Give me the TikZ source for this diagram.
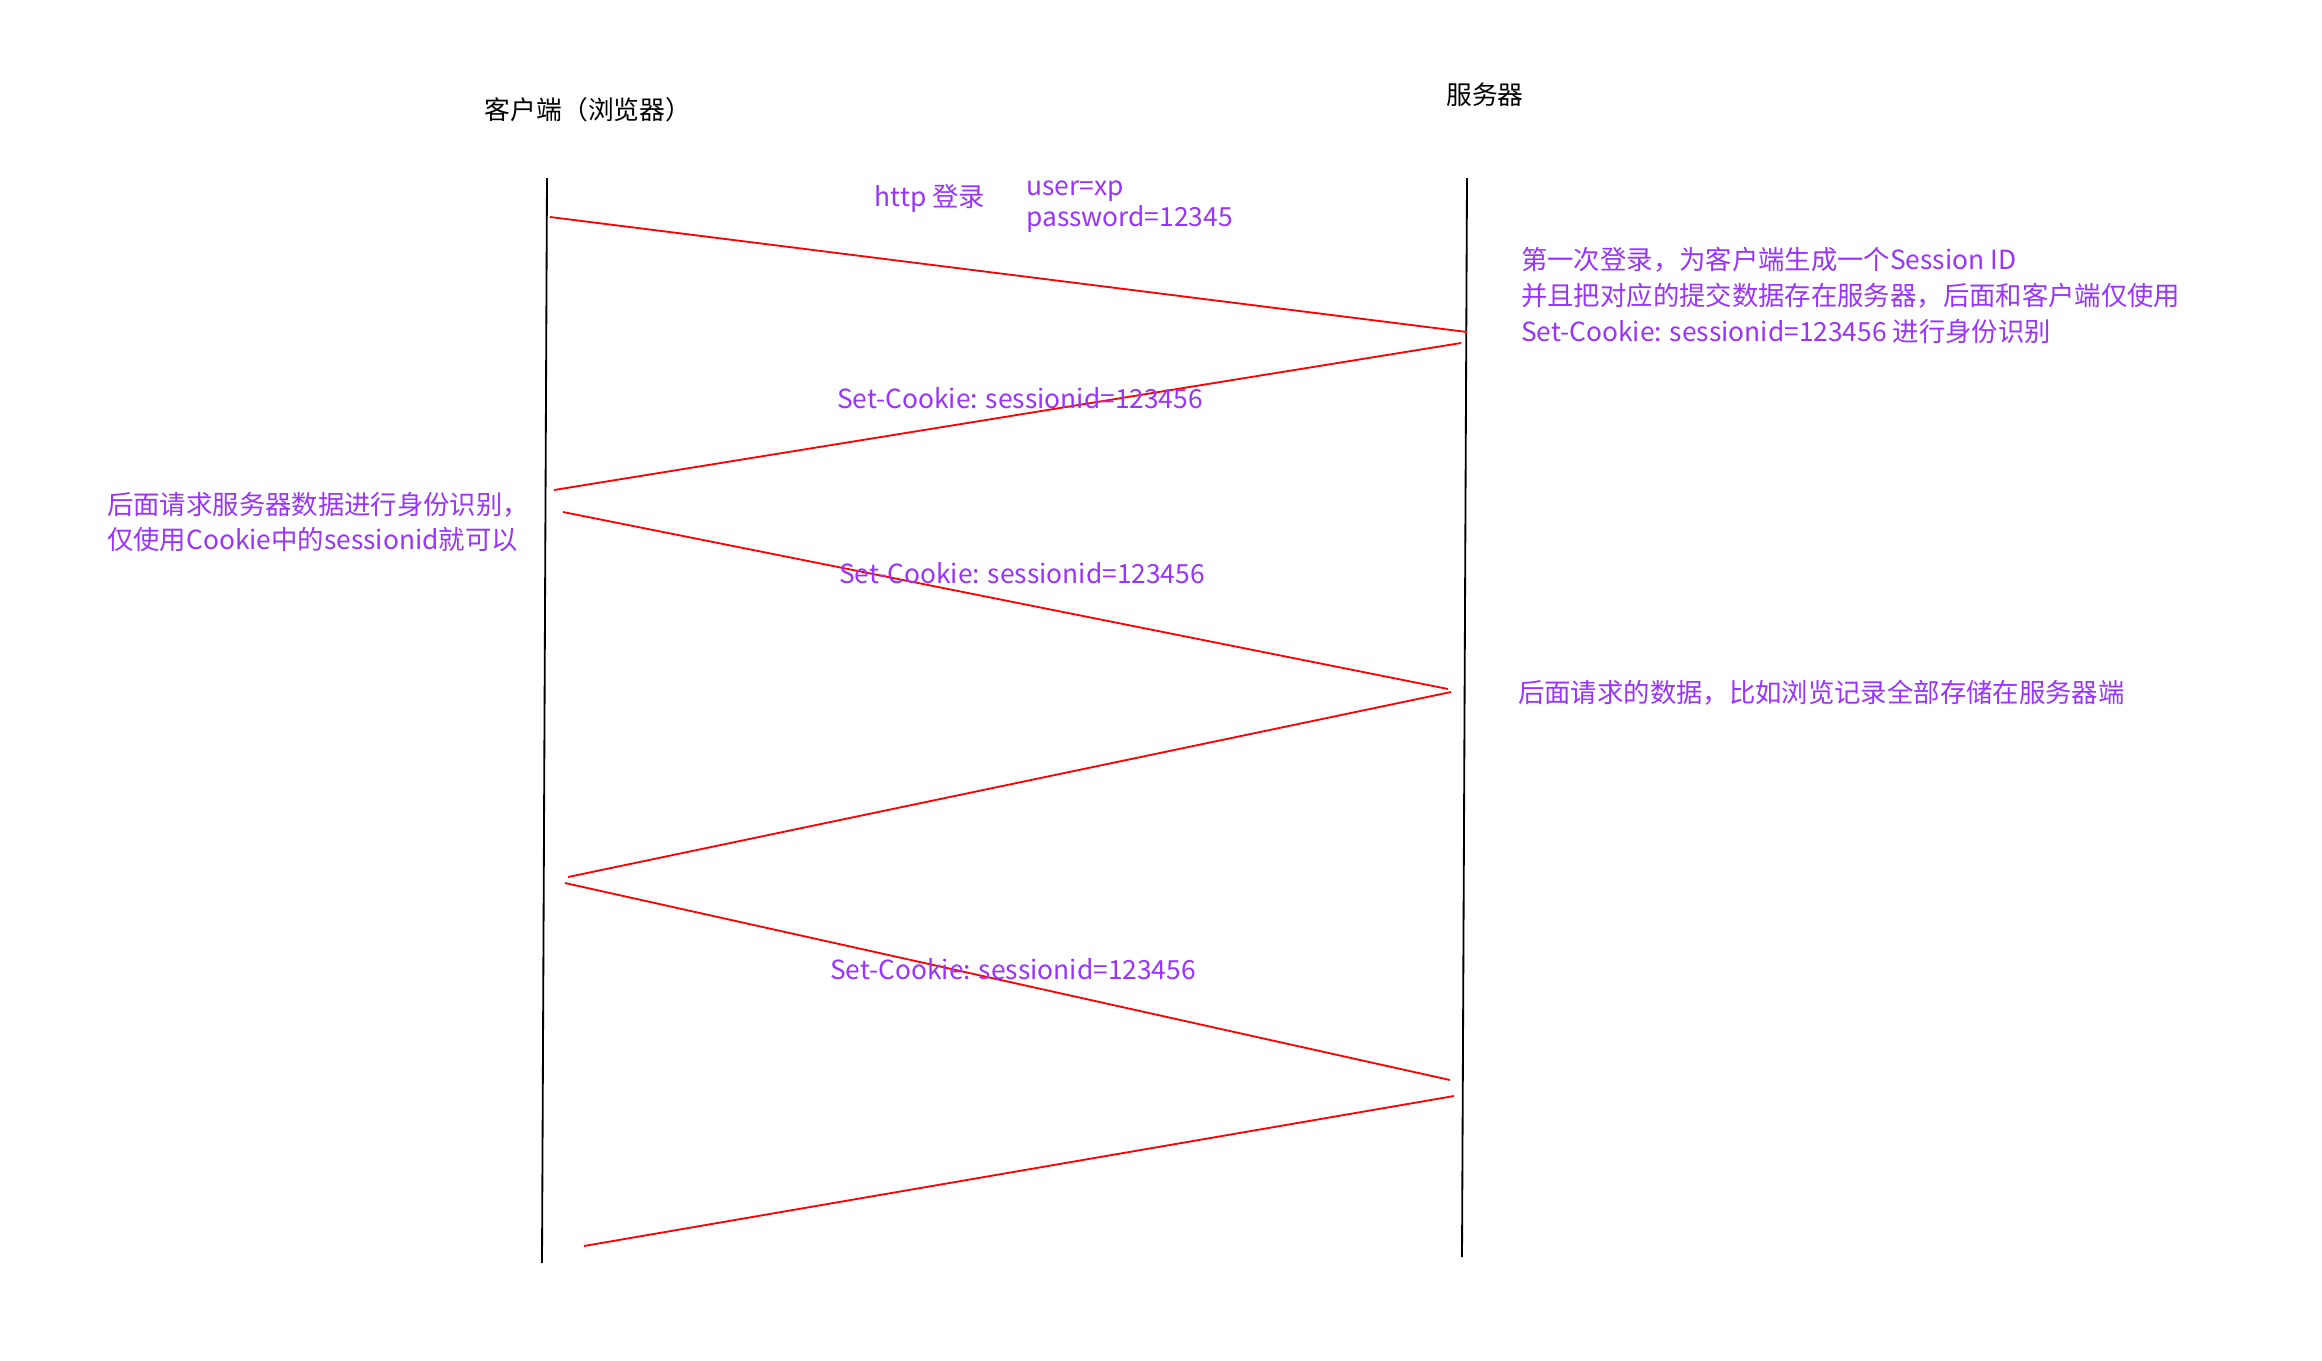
\documentclass[tikz,border=0pt]{standalone}
\usepackage{fontspec}
\setmainfont{Noto Sans CJK SC}
\usetikzlibrary{positioning}
\definecolor{notepurple}{RGB}{153,51,255}
\newcommand{\partysize}{\fontsize{22}{26}\selectfont}
\newcommand{\notesize}{\fontsize{22.5}{30.7}\selectfont}
\newcommand{\loginsize}{\fontsize{22.5}{26.4}\selectfont}

\begin{document}
\begin{tikzpicture}[x=0.3mm,y=-0.3mm]
\tikzstyle{lifeline}=[line width=0.55mm]
\tikzstyle{msg}=[red,line width=0.55mm]
\tikzstyle{party}=[inner sep=0pt,font=\partysize]
\tikzstyle{note}=[inner sep=0pt,text=notepurple,font=\notesize,align=left]

\useasboundingbox (0,0) rectangle (2322,1360);

\node (client) [party] at (588,110) {客户端（浏览器）};
\node (server) [party] at (1485,95) {服务器};

\coordinate (clienttop) at (547,178);
\coordinate (clientbottom) at (542,1263);
\coordinate (servertop) at (1467,178);
\coordinate (serverbottom) at (1462,1257);
\draw[lifeline] (clienttop) -- (clientbottom);
\draw[lifeline] (servertop) -- (serverbottom);

\coordinate (login) at (550,217);
\coordinate (loginend) at (1467,332);
\coordinate (setcookie) at (1461,343);
\coordinate (setcookieend) at (554,490);
\coordinate (reqone) at (563,512);
\coordinate (reqoneend) at (1448,689);
\coordinate (respone) at (1451,692);
\coordinate (responeend) at (568,877);
\coordinate (reqtwo) at (565,883);
\coordinate (reqtwoend) at (1450,1080);
\coordinate (resptwo) at (1454,1096);
\coordinate (resptwoend) at (584,1246);

\draw[msg] (login) -- (loginend);
\draw[msg] (setcookie) -- (setcookieend);
\draw[msg] (reqone) -- (reqoneend);
\draw[msg] (respone) -- (responeend);
\draw[msg] (reqtwo) -- (reqtwoend);
\draw[msg] (resptwo) -- (resptwoend);

\node (httplogin) [note] at (930,198) {http 登录};
\node (credentials) [note,font=\loginsize,anchor=west] at (1026,207) {user=xp\\password=12345};

\node (firstlogin) [note,anchor=west] at (1521,295) {第一次登录，为客户端生成一个Session ID\\并且把对应的提交数据存在服务器，后面和客户端仅使用\\Set-Cookie: sessionid=123456 进行身份识别};
\node (cookieone) [note] at (1020,398) {Set-Cookie: sessionid=123456};
\node (cookietwo) [note] at (1022,573) {Set-Cookie: sessionid=123456};
\node (clientnote) [note,anchor=west] at (107,522) {后面请求服务器数据进行身份识别，\\仅使用Cookie中的sessionid就可以};
\node (servernote) [note,anchor=west] at (1518,693) {后面请求的数据，比如浏览记录全部存储在服务器端};
\node (cookiethree) [note] at (1013,969) {Set-Cookie: sessionid=123456};

\end{tikzpicture}
\end{document}
